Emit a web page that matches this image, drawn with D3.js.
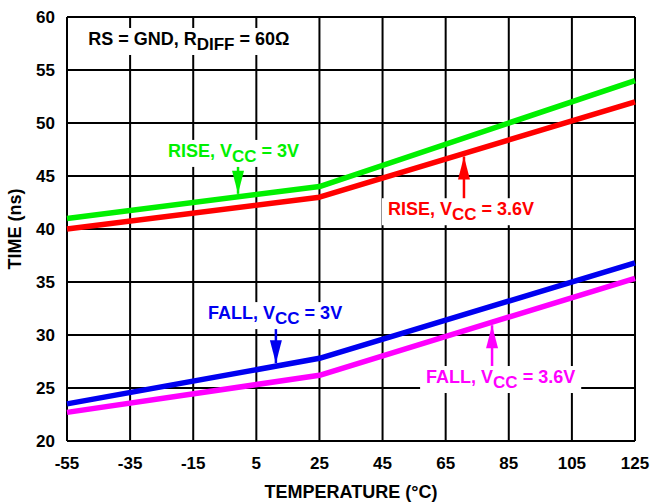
<!DOCTYPE html>
<html>
<head>
<meta charset="utf-8">
<script src="https://cdn.jsdelivr.net/npm/d3@7"></script>
<style>
  body { margin: 0; background: #fff; }
  text { font-family: "Liberation Sans", Arial, sans-serif; font-weight: bold; }
</style>
</head>
<body>
<svg id="chart"></svg>
<script>
// temperatures (degC) where the curves were read
var temps = [-55, 25, 125];
// times in ns
var riseVcc3 = [41, 44, 54];
var riseVcc36 = [40, 43, 52];
var fallVcc3 = [23.5, 27.8, 36.8];
var fallVcc36 = [22.7, 26.2, 35.35];

var xTicks = [-55, -35, -15, 5, 25, 45, 65, 85, 105, 125];
var yTicks = [20, 25, 30, 35, 40, 45, 50, 55, 60];

var W = 651, H = 504;
var margin = {top: 17, right: 16, bottom: 63, left: 67};

var x = d3.scaleLinear().domain([-55, 125]).range([margin.left, W - margin.right]);
var y = d3.scaleLinear().domain([20, 60]).range([H - margin.bottom, margin.top]);

var svg = d3.select("#chart").attr("width", W).attr("height", H);

// grid
svg.append("g").selectAll("line").data(xTicks).join("line")
  .attr("x1", d => x(d)).attr("x2", d => x(d))
  .attr("y1", y(20)).attr("y2", y(60))
  .attr("stroke", "#000").attr("stroke-width", 2);
svg.append("g").selectAll("line").data(yTicks).join("line")
  .attr("x1", x(-55)).attr("x2", x(125))
  .attr("y1", d => y(d)).attr("y2", d => y(d))
  .attr("stroke", "#000").attr("stroke-width", 2);

// tick labels
svg.append("g").selectAll("text").data(yTicks).join("text")
  .attr("x", x(-55) - 12).attr("y", d => y(d) + 6)
  .attr("text-anchor", "end").attr("font-size", 17)
  .text(d => d);
svg.append("g").selectAll("text").data(xTicks).join("text")
  .attr("x", d => x(d)).attr("y", y(20) + 28)
  .attr("text-anchor", "middle").attr("font-size", 17)
  .text(d => d);

svg.append("text").attr("x", (x(-55) + x(125)) / 2).attr("y", 498)
  .attr("text-anchor", "middle").attr("font-size", 18)
  .text("TEMPERATURE (°C)");
svg.append("text")
  .attr("transform", "translate(21," + ((y(20) + y(60)) / 2) + ") rotate(-90)")
  .attr("text-anchor", "middle").attr("font-size", 18)
  .text("TIME (ns)");

// curves
var series = [
  {vals: riseVcc3, color: "#00f000"},
  {vals: riseVcc36, color: "#ff0000"},
  {vals: fallVcc3, color: "#0000f0"},
  {vals: fallVcc36, color: "#ff00ff"}
];
var line = d3.line().x((d, i) => x(temps[i])).y(d => y(d));
svg.append("g").selectAll("path").data(series).join("path")
  .attr("d", d => line(d.vals))
  .attr("fill", "none")
  .attr("stroke", d => d.color)
  .attr("stroke-width", 5.5)
  .attr("stroke-linejoin", "round");

// value of a series at temperature t (for arrow tips)
function at(vals, t) {
  return d3.scaleLinear().domain(temps).range(vals)(t);
}

// labels with white boxes, subscript parts in tspans
function label(parts, tx, ty, color) {
  var g = svg.append("g");
  var t = g.append("text").attr("x", x(tx)).attr("y", y(ty))
    .attr("font-size", 18).attr("fill", color);
  parts.forEach(function(p) {
    var s = t.append("tspan").text(p.s);
    if (p.sub) s.attr("font-size", 17).attr("dy", 5);
    else if (p.after) s.attr("dy", -5);
  });
  var b = t.node().getBBox();
  g.insert("rect", "text")
    .attr("x", b.x - 6).attr("y", b.y - 1)
    .attr("width", b.width + 12).attr("height", b.height + 2)
    .attr("fill", "#fff");
  return b;
}

function arrow(t, vals, fromY, dir, color) {
  var tipY = y(at(vals, t)) + (dir < 0 ? -3 : 3);
  var px = x(t);
  svg.append("line").attr("x1", px).attr("x2", px)
    .attr("y1", fromY).attr("y2", tipY)
    .attr("stroke", color).attr("stroke-width", 2.5);
  var hl = 23, hw = 6;
  var baseY = tipY - (dir < 0 ? hl : -hl);
  svg.append("path")
    .attr("d", "M" + px + "," + tipY + "L" + (px - hw) + "," + baseY + "L" + (px + hw) + "," + baseY + "Z")
    .attr("fill", color);
}

label([{s: "RS = GND, R"}, {s: "DIFF", sub: true}, {s: " = 60Ω", after: true}], -48.3, 57.36, "#000");

var b1 = label([{s: "RISE, V"}, {s: "CC", sub: true}, {s: " = 3V", after: true}], -23, 46.8, "#00f000");
arrow(-0.8, riseVcc3, b1.y + b1.height + 1, -1, "#00f000");

var b2 = label([{s: "RISE, V"}, {s: "CC", sub: true}, {s: " = 3.6V", after: true}], 46.7, 41.3, "#ff0000");
arrow(70.8, riseVcc36, b2.y - 1, 1, "#ff0000");

var b3 = label([{s: "FALL, V"}, {s: "CC", sub: true}, {s: " = 3V", after: true}], -10.3, 31.5, "#0000f0");
arrow(11.2, fallVcc3, b3.y + b3.height + 1, -1, "#0000f0");

var b4 = label([{s: "FALL, V"}, {s: "CC", sub: true}, {s: " = 3.6V", after: true}], 58.8, 25.47, "#ff00ff");
arrow(79.7, fallVcc36, b4.y - 1, 1, "#ff00ff");
</script>
</body>
</html>
